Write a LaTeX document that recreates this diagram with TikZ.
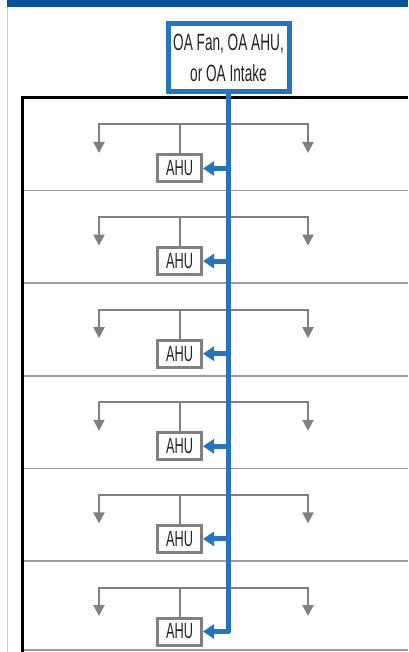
\documentclass[tikz,border=0pt]{standalone}
\usepackage{fontspec}
\usepackage{tikz}
\usetikzlibrary{arrows.meta}
\newfontfamily\condfont[FakeStretch=0.58]{Liberation Sans}
\definecolor{bandblue}{RGB}{8,82,158}
\definecolor{pipeblue}{RGB}{37,116,188}
\definecolor{edgeblue}{RGB}{200,210,240}
\definecolor{ductgray}{RGB}{128,128,128}
\definecolor{floorgray}{RGB}{155,155,155}
\definecolor{textgray}{RGB}{35,35,35}

\begin{document}
\begin{tikzpicture}[x=1pt,y=-1pt,
        ahu/.style={draw=ductgray,line width=3pt,fill=white,minimum width=44pt,minimum height=27pt,inner sep=0pt,text=textgray,font=\condfont\fontsize{22}{24}\selectfont},
        duct/.style={draw=ductgray,line width=2pt},
        outlet/.style={duct,-{Triangle[length=11pt,width=11pt]}},
        supply/.style={draw=pipeblue,line width=5pt,line join=round,-{Triangle[length=11pt,width=14pt]}},
        floorline/.style={draw=floorgray,line width=1.5pt}]
        \useasboundingbox (0,0) rectangle (408,652);
        \fill[bandblue] (7,0) rectangle (408,7);
        \draw[edgeblue,line width=1pt] (7,7) -- (7,652);

        % floors
        \draw[floorline] (22,190.6) -- (408,190.6);
        \draw[floorline] (22,283.2) -- (408,283.2);
        \draw[floorline] (22,375.8) -- (408,375.8);
        \draw[floorline] (22,468.4) -- (408,468.4);
        \draw[floorline] (22,561) -- (408,561);
        \draw[floorline] (22,650) -- (408,650);
        \draw[black,line width=3pt] (408,98) -- (22,98) -- (22,652);

        \node[draw=pipeblue,line width=5pt,fill=white,minimum width=121pt,minimum height=68pt,inner sep=0pt,align=center,text=textgray,font=\condfont\fontsize{23.5}{30.6}\selectfont] (oa) at (228.5,57.7) {OA Fan, OA AHU,\\or OA Intake};

        % first floor
        \node[ahu] (ahu1) at (179.5,168.5) {AHU};
        \coordinate (j1) at (179.5,124.5); \coordinate (l1) at (99,153); \coordinate (r1) at (308,153);
        \draw[duct] (ahu1.north) -- (j1);
        \draw[outlet] (j1) -| (l1);
        \draw[outlet] (j1) -| (r1);
        % second floor
        \node[ahu] (ahu2) at (179.5,261.1) {AHU};
        \coordinate (j2) at (179.5,217.1); \coordinate (l2) at (99,245.6); \coordinate (r2) at (308,245.6);
        \draw[duct] (ahu2.north) -- (j2);
        \draw[outlet] (j2) -| (l2);
        \draw[outlet] (j2) -| (r2);
        % third floor
        \node[ahu] (ahu3) at (179.5,353.7) {AHU};
        \coordinate (j3) at (179.5,309.7); \coordinate (l3) at (99,338.2); \coordinate (r3) at (308,338.2);
        \draw[duct] (ahu3.north) -- (j3);
        \draw[outlet] (j3) -| (l3);
        \draw[outlet] (j3) -| (r3);
        % fourth floor
        \node[ahu] (ahu4) at (179.5,446.3) {AHU};
        \coordinate (j4) at (179.5,402.3); \coordinate (l4) at (99,430.8); \coordinate (r4) at (308,430.8);
        \draw[duct] (ahu4.north) -- (j4);
        \draw[outlet] (j4) -| (l4);
        \draw[outlet] (j4) -| (r4);
        % fifth floor
        \node[ahu] (ahu5) at (179.5,538.9) {AHU};
        \coordinate (j5) at (179.5,494.9); \coordinate (l5) at (99,523.4); \coordinate (r5) at (308,523.4);
        \draw[duct] (ahu5.north) -- (j5);
        \draw[outlet] (j5) -| (l5);
        \draw[outlet] (j5) -| (r5);
        % sixth floor
        \node[ahu] (ahu6) at (179.5,631.5) {AHU};
        \coordinate (j6) at (179.5,587.5); \coordinate (l6) at (99,616); \coordinate (r6) at (308,616);
        \draw[duct] (ahu6.north) -- (j6);
        \draw[outlet] (j6) -| (l6);
        \draw[outlet] (j6) -| (r6);

        % outside air riser
        \draw[supply] (oa.south) |- (ahu6.east);
        \draw[supply] (oa.south |- ahu1.east) -- (ahu1.east);
        \draw[supply] (oa.south |- ahu2.east) -- (ahu2.east);
        \draw[supply] (oa.south |- ahu3.east) -- (ahu3.east);
        \draw[supply] (oa.south |- ahu4.east) -- (ahu4.east);
        \draw[supply] (oa.south |- ahu5.east) -- (ahu5.east);
\end{tikzpicture}
\end{document}
